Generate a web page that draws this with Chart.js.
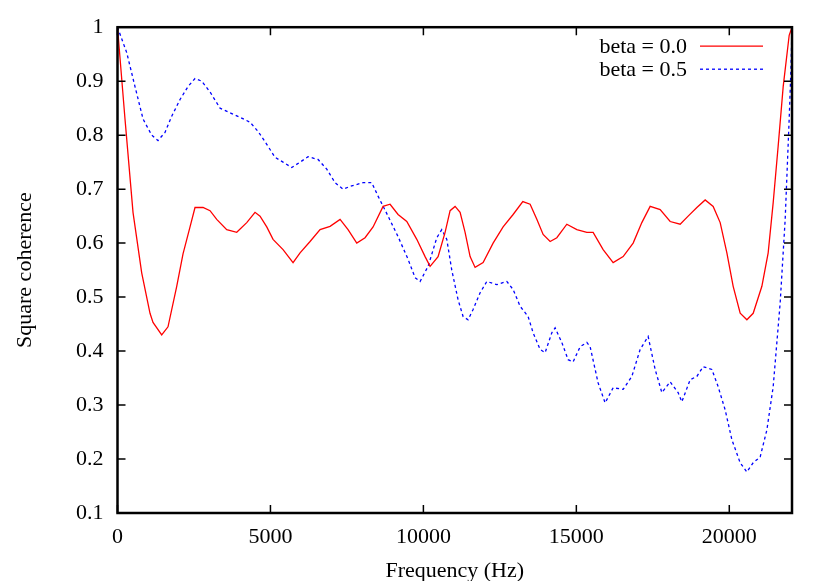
<!DOCTYPE html>
<html>
<head>
<meta charset="utf-8">
<script src="https://cdn.jsdelivr.net/npm/chart.js@4/dist/chart.umd.min.js"></script>
<style>
  html, body { margin: 0; padding: 0; background: #ffffff; }
  #wrap { width: 830px; height: 581px; }
</style>
</head>
<body>
<div id="wrap"><canvas id="c" width="830" height="581"></canvas></div>
<script>
// ---- data ----
const seriesLabels = ["beta = 0.0", "beta = 0.5"];

const freqRed = [0, 245, 507, 791, 1063, 1161, 1445, 1651, 1936, 2142, 2371, 2534, 2796, 3025, 3244, 3571, 3898, 4225, 4496, 4660, 4879, 5085, 5412, 5739, 5968, 6295, 6622, 6949, 7276, 7537, 7822, 8093, 8355, 8682, 8911, 9172, 9457, 9784, 10055, 10219, 10480, 10709, 10873, 11036, 11200, 11363, 11527, 11690, 11952, 12279, 12606, 12933, 13250, 13489, 13708, 13914, 14143, 14362, 14689, 15016, 15343, 15549, 15876, 16203, 16530, 16857, 17141, 17413, 17740, 18067, 18394, 18655, 18940, 19211, 19473, 19702, 19921, 20127, 20356, 20575, 20781, 21065, 21271, 21435, 21598, 21762, 21958, 22050];
const cohRed = [1.0, 0.83, 0.657, 0.545, 0.47, 0.453, 0.43, 0.445, 0.52, 0.58, 0.63, 0.666, 0.666, 0.66, 0.644, 0.625, 0.62, 0.638, 0.657, 0.65, 0.63, 0.607, 0.588, 0.564, 0.582, 0.603, 0.625, 0.631, 0.644, 0.625, 0.60, 0.61, 0.63, 0.668, 0.672, 0.653, 0.64, 0.607, 0.575, 0.557, 0.575, 0.62, 0.66, 0.668, 0.657, 0.62, 0.575, 0.555, 0.564, 0.60, 0.63, 0.653, 0.677, 0.672, 0.644, 0.616, 0.603, 0.61, 0.635, 0.625, 0.62, 0.62, 0.588, 0.564, 0.575, 0.60, 0.638, 0.668, 0.662, 0.64, 0.635, 0.65, 0.666, 0.68, 0.668, 0.638, 0.582, 0.52, 0.47, 0.458, 0.47, 0.52, 0.582, 0.675, 0.78, 0.89, 0.985, 1.0];

const freqBlue = [0, 301, 572, 834, 1118, 1324, 1553, 1772, 2044, 2305, 2534, 2753, 3025, 3352, 3734, 4006, 4333, 4594, 4879, 5150, 5412, 5696, 5968, 6229, 6556, 6841, 7112, 7374, 7603, 8028, 8312, 8518, 8845, 9172, 9499, 9728, 9892, 10153, 10438, 10601, 10765, 10928, 11134, 11298, 11461, 11625, 11854, 12073, 12400, 12727, 12933, 13162, 13423, 13587, 13816, 13979, 14198, 14306, 14525, 14731, 14895, 15124, 15343, 15451, 15712, 15941, 16203, 16530, 16814, 17086, 17347, 17576, 17795, 18067, 18328, 18449, 18721, 18940, 19146, 19430, 19636, 19865, 20084, 20356, 20575, 20781, 21010, 21229, 21435, 21664, 21827, 21958, 22014, 22050];
const cohBlue = [1.0, 0.953, 0.89, 0.83, 0.80, 0.79, 0.805, 0.835, 0.866, 0.89, 0.905, 0.90, 0.88, 0.85, 0.84, 0.833, 0.824, 0.807, 0.783, 0.759, 0.75, 0.74, 0.75, 0.76, 0.755, 0.737, 0.712, 0.70, 0.705, 0.712, 0.712, 0.687, 0.65, 0.612, 0.57, 0.536, 0.529, 0.557, 0.61, 0.625, 0.607, 0.55, 0.495, 0.464, 0.458, 0.477, 0.508, 0.529, 0.523, 0.529, 0.514, 0.483, 0.464, 0.434, 0.403, 0.397, 0.434, 0.443, 0.416, 0.384, 0.38, 0.408, 0.416, 0.408, 0.341, 0.304, 0.332, 0.329, 0.353, 0.403, 0.427, 0.366, 0.323, 0.343, 0.323, 0.306, 0.347, 0.353, 0.371, 0.366, 0.334, 0.291, 0.236, 0.193, 0.176, 0.193, 0.204, 0.254, 0.334, 0.49, 0.644, 0.83, 0.92, 1.0];

const xTicks = [0, 5000, 10000, 15000, 20000];
const yTicks = [0.1, 0.2, 0.3, 0.4, 0.5, 0.6, 0.7, 0.8, 0.9, 1];
const xTitle = "Frequency (Hz)";
const yTitle = "Square coherence";

// ---- chart ----
const FONT = "'Liberation Serif', 'DejaVu Serif', serif";
const toPoints = (xs, ys) => xs.map((x, i) => ({ x: x, y: ys[i] }));

const framePlugin = {
  id: 'frame',
  afterDraw(chart) {
    const ctx = chart.ctx;
    const a = chart.chartArea;
    const xs = chart.scales.x, ys = chart.scales.y;
    ctx.save();
    ctx.strokeStyle = '#000';
    ctx.lineWidth = 1.5;
    const tl = 8;
    ctx.beginPath();
    xTicks.forEach(v => {
      const p = xs.getPixelForValue(v);
      ctx.moveTo(p, a.bottom); ctx.lineTo(p, a.bottom - tl);
      ctx.moveTo(p, a.top); ctx.lineTo(p, a.top + tl);
    });
    yTicks.forEach(v => {
      const p = ys.getPixelForValue(v);
      ctx.moveTo(a.left, p); ctx.lineTo(a.left + tl, p);
      ctx.moveTo(a.right, p); ctx.lineTo(a.right - tl, p);
    });
    ctx.stroke();
    ctx.lineWidth = 2.5;
    ctx.strokeRect(a.left, a.top, a.right - a.left, a.bottom - a.top);

    // key (text then line sample, gnuplot style)
    ctx.font = "22px " + FONT;
    ctx.textAlign = 'right';
    ctx.textBaseline = 'middle';
    const rows = [
      { label: chart.data.datasets[0].label, color: chart.data.datasets[0].borderColor, dash: [] },
      { label: chart.data.datasets[1].label, color: chart.data.datasets[1].borderColor, dash: [3, 3] }
    ];
    rows.forEach((r, i) => {
      const y = a.top + 19 + i * 23;
      ctx.fillStyle = '#000';
      ctx.fillText(r.label, a.right - 105, y + 1);
      ctx.strokeStyle = r.color;
      ctx.lineWidth = 1.3;
      ctx.setLineDash(r.dash);
      ctx.beginPath();
      ctx.moveTo(a.right - 92, y);
      ctx.lineTo(a.right - 29, y);
      ctx.stroke();
      ctx.setLineDash([]);
    });
    ctx.restore();
  }
};

new Chart(document.getElementById('c'), {
  type: 'line',
  data: {
    datasets: [
      {
        label: seriesLabels[0],
        data: toPoints(freqRed, cohRed),
        borderColor: '#ff0000',
        borderWidth: 1.3,
        pointRadius: 0,
        tension: 0,
        fill: false
      },
      {
        label: seriesLabels[1],
        data: toPoints(freqBlue, cohBlue),
        borderColor: '#0000ff',
        borderWidth: 1.3,
        borderDash: [3, 3],
        pointRadius: 0,
        tension: 0,
        fill: false
      }
    ]
  },
  options: {
    responsive: false,
    animation: false,
    devicePixelRatio: 1,
    layout: { padding: { left: 0, top: 27, right: 38, bottom: 0 } },
    plugins: {
      legend: { display: false },
      tooltip: { enabled: false }
    },
    scales: {
      x: {
        type: 'linear',
        min: 0,
        max: 22050,
        afterBuildTicks: s => { s.ticks = xTicks.map(v => ({ value: v })); },
        afterFit: s => { s.height = 68; },
        grid: { display: false, drawTicks: false },
        border: { display: false },
        ticks: {
          padding: 11,
          color: '#000',
          font: { family: FONT, size: 22 },
          maxRotation: 0,
          callback: v => String(v)
        },
        title: {
          display: true,
          text: xTitle,
          color: '#000',
          font: { family: FONT, size: 22 },
          padding: { top: 0, bottom: -3 }
        }
      },
      y: {
        type: 'linear',
        min: 0.1,
        max: 1,
        afterBuildTicks: s => { s.ticks = yTicks.map(v => ({ value: v })); },
        afterFit: s => { s.width = 117.5; },
        grid: { display: false, drawTicks: false },
        border: { display: false },
        ticks: {
          padding: 14,
          color: '#000',
          font: { family: FONT, size: 22 },
          callback: v => String(Math.round(v * 10) / 10)
        },
        title: {
          display: true,
          text: yTitle,
          color: '#000',
          font: { family: FONT, size: 22 },
          padding: { top: 12, bottom: 0 }
        }
      }
    }
  },
  plugins: [framePlugin]
});
</script>
</body>
</html>
